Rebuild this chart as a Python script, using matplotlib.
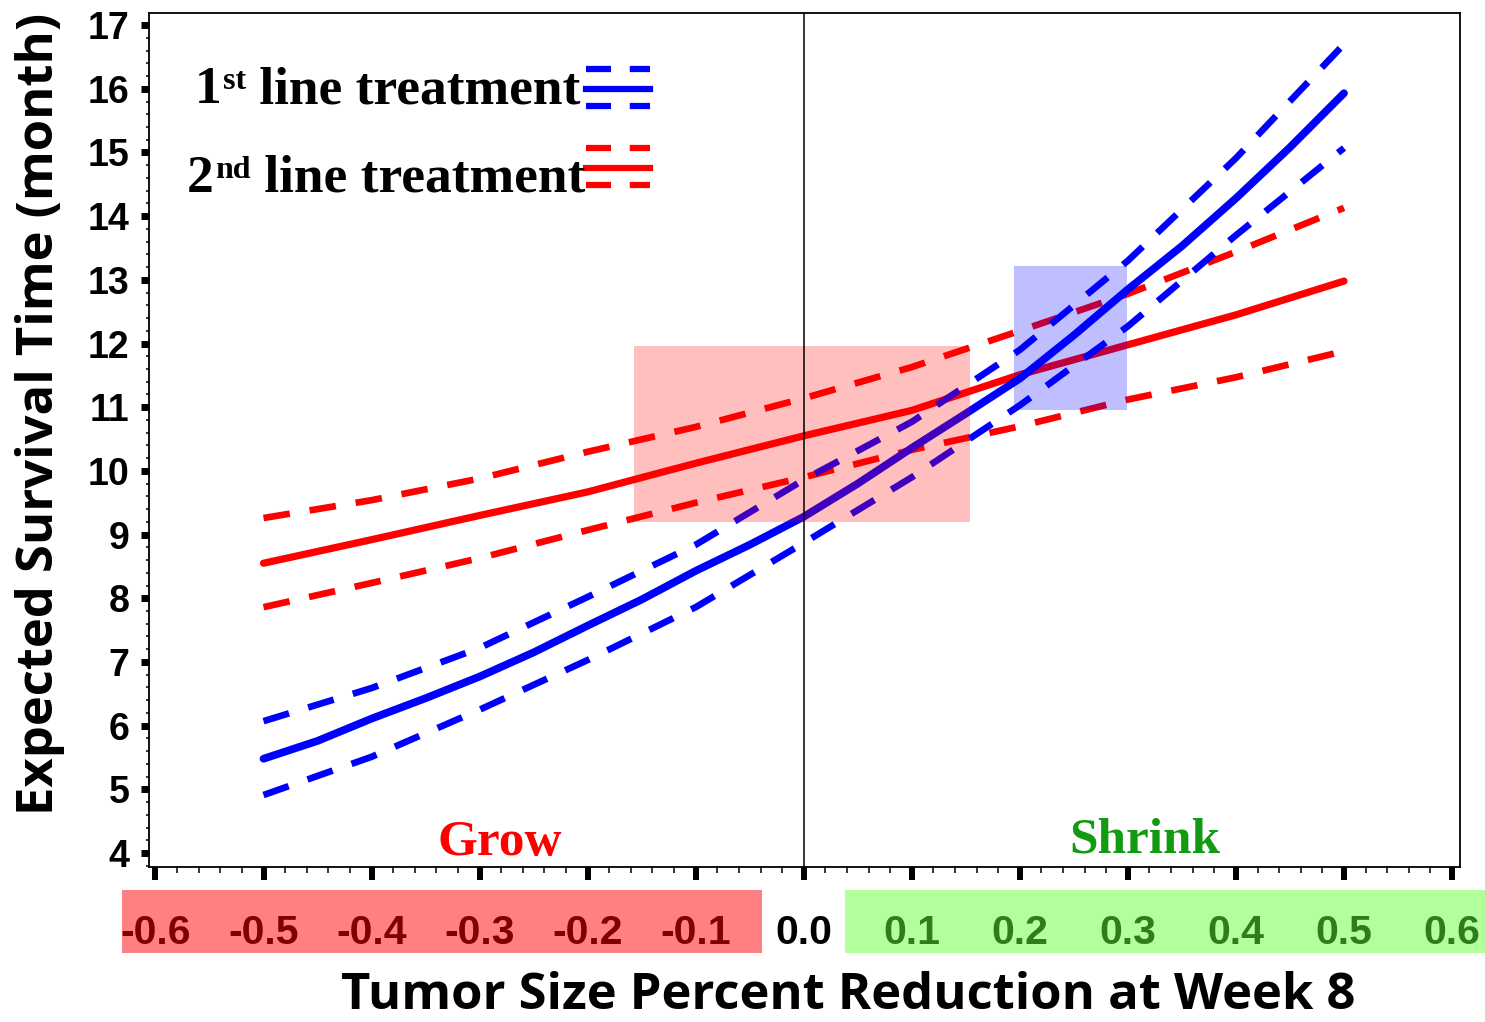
import numpy as np
import matplotlib
matplotlib.use("Agg")
import matplotlib.pyplot as plt
import matplotlib.transforms as mtransforms
from matplotlib.patches import Rectangle
from matplotlib.lines import Line2D
from matplotlib.ticker import MultipleLocator

# -----------------------------
# DATA
# -----------------------------
reduction = [-0.5, -0.4, -0.3, -0.2, -0.1, 0.0, 0.1, 0.2, 0.3, 0.4, 0.5]
reduction_fine = [-0.5, -0.45, -0.4, -0.35, -0.3, -0.25, -0.2, -0.15, -0.1, -0.05,
                  0.0, 0.05, 0.1, 0.15, 0.2, 0.25, 0.3, 0.35, 0.4, 0.45, 0.5]

# 1st line treatment: estimate and band
first_mid = [5.48, 5.76, 6.11, 6.43, 6.77, 7.15, 7.57, 7.98, 8.43, 8.84,
             9.28, 9.80, 10.36, 10.90, 11.45, 12.13, 12.85, 13.53, 14.28, 15.08, 15.93]
first_hi = [6.07, 6.59, 7.22, 8.02, 8.84, 9.86, 10.77, 11.90, 13.30, 14.91, 16.70]
first_lo = [4.91, 5.51, 6.25, 7.03, 7.86, 8.87, 9.90, 11.03, 12.27, 13.70, 15.07]

# 2nd line treatment: estimate and band
second_mid = [8.55, 8.92, 9.30, 9.67, 10.12, 10.55, 10.95, 11.51, 11.98, 12.45, 12.98]
second_hi = [9.26, 9.54, 9.88, 10.30, 10.69, 11.14, 11.63, 12.20, 12.78, 13.44, 14.13]
second_lo = [7.86, 8.24, 8.63, 9.07, 9.50, 9.90, 10.33, 10.70, 11.12, 11.47, 11.88]

# highlighted regions (x0, x1, y0, y1)
red_zone = (-0.157, 0.154, 9.20, 11.96)
blue_zone = (0.195, 0.299, 10.96, 13.22)

x_ticks = [-0.6, -0.5, -0.4, -0.3, -0.2, -0.1, 0.0, 0.1, 0.2, 0.3, 0.4, 0.5, 0.6]
x_tick_labels = ["-0.6", "-0.5", "-0.4", "-0.3", "-0.2", "-0.1", "0.0",
                 "0.1", "0.2", "0.3", "0.4", "0.5", "0.6"]
y_ticks = list(range(4, 18))

# -----------------------------
# STYLE
# -----------------------------
BLUE = "#0000ff"
RED = "#ff0000"
DASH = (0, (4.0, 3.0))
TICK_FONT = "Liberation Sans"
SERIF = "Liberation Serif"
LABEL_FONT = "Open Sans"

fig = plt.figure(figsize=(14.85, 10.22), dpi=100)
ax = fig.add_axes([149 / 1485, 1 - 867 / 1022, 1311 / 1485, 854 / 1022])

ax.set_xlim(-0.606, 0.6074)
ax.set_ylim(3.78, 17.19)

# red curves first, blue on top
ax.plot(reduction, second_hi, color=RED, lw=4.8, ls=DASH, dash_capstyle="butt")
ax.plot(reduction, second_lo, color=RED, lw=4.8, ls=DASH, dash_capstyle="butt")
ax.plot(reduction, second_mid, color=RED, lw=5.2, solid_capstyle="round",
        solid_joinstyle="round")
ax.plot(reduction, first_hi, color=BLUE, lw=4.8, ls=DASH, dash_capstyle="butt")
ax.plot(reduction, first_lo, color=BLUE, lw=4.8, ls=DASH, dash_capstyle="butt")
ax.plot(reduction_fine, first_mid, color=BLUE, lw=5.6, solid_capstyle="round",
        solid_joinstyle="round")

# translucent zones on top of the curves
for (x0, x1, y0, y1), c in [(red_zone, RED), (blue_zone, BLUE)]:
    ax.add_patch(Rectangle((x0, y0), x1 - x0, y1 - y0, facecolor=c,
                           alpha=0.25, edgecolor="none", zorder=3))

ax.axvline(0, color="black", lw=1.1, zorder=4)

# -----------------------------
# AXES / TICKS
# -----------------------------
for sp in ax.spines.values():
    sp.set_linewidth(1.3)

ax.set_xticks(x_ticks)
ax.set_xticklabels(x_tick_labels)
ax.xaxis.set_minor_locator(MultipleLocator(0.02))
ax.set_yticks(y_ticks)
ax.yaxis.set_minor_locator(MultipleLocator(0.2))

ax.tick_params(axis="x", which="major", direction="out", length=9.5, width=4.3,
               pad=24, labelsize=29.5)
ax.tick_params(axis="x", which="minor", direction="out", length=4, width=1.1)
ax.tick_params(axis="y", which="major", direction="out", length=6, width=5,
               pad=8, labelsize=27)
ax.tick_params(axis="y", which="minor", direction="out", length=2.5, width=1.1)

for lbl in ax.get_xticklabels() + ax.get_yticklabels():
    lbl.set_fontfamily(TICK_FONT)
    lbl.set_fontweight("bold")

for lbl, v in zip(ax.get_xticklabels(), x_ticks):
    if v < 0:
        lbl.set_color("#7f0000")
    elif v > 0:
        lbl.set_color("#2f7d1a")
    else:
        lbl.set_color("black")

# colored bands behind the x tick labels
band = mtransforms.blended_transform_factory(ax.transData, ax.transAxes)
ax.add_patch(Rectangle((-0.631, -0.1007), 0.592, 0.0738, transform=band,
                       facecolor="#ff8080", edgecolor="none", clip_on=False, zorder=0))
ax.add_patch(Rectangle((0.038, -0.1007), 0.62, 0.0738, transform=band,
                       facecolor="#b3ff9b", edgecolor="none", clip_on=False, zorder=0))

ax.set_xlabel("Tumor Size Percent Reduction at Week 8", fontfamily=LABEL_FONT,
              fontweight="bold", fontsize=36.5, va="baseline")
ax.xaxis.set_label_coords(0.5332, -0.1663)
ax.set_ylabel("Expected Survival Time (month)", fontfamily=LABEL_FONT,
              fontweight="bold", fontsize=36.5, va="center")
ax.yaxis.set_label_coords(-0.0831, 0.5304)

# -----------------------------
# REGION LABELS
# -----------------------------
ax.text(-0.281, 3.97, "Grow", color=RED, fontfamily=SERIF, fontweight="bold",
        fontsize=37, ha="center", va="baseline")
ax.text(0.3156, 4.0, "Shrink", color="#139a13", fontfamily=SERIF, fontweight="bold",
        fontsize=37, ha="center", va="baseline")

# -----------------------------
# LEGEND (text with superscripts + three-line keys)
# -----------------------------
def legend_entry(x, y, num, sup, color, ys):
    t1 = ax.text(x, y, num, transform=ax.transAxes, fontfamily=SERIF,
                 fontweight="bold", fontsize=38.5, va="baseline")
    t2 = ax.annotate(sup, xy=(1, 0), xycoords=t1, xytext=(1, 13),
                     textcoords="offset points", fontfamily=SERIF,
                     fontweight="bold", fontsize=23, va="bottom")
    ax.annotate(" line treatment", xy=(1, 0), xycoords=t2, xytext=(0, -13),
                textcoords="offset points", fontfamily=SERIF,
                fontweight="bold", fontsize=38.5, va="bottom")
    for yy, style in zip(ys, [DASH, "-", DASH]):
        ax.add_line(Line2D([0.3333, 0.3822], [yy, yy], transform=ax.transAxes,
                           color=color, lw=4.5, ls=style, dash_capstyle="butt",
                           clip_on=False))

legend_entry(0.0351, 0.8946, "1", "st", BLUE, [0.9344, 0.9110, 0.8910])
legend_entry(0.0290, 0.7904, "2", "nd", RED, [0.8420, 0.8185, 0.7986])

fig.savefig("out.png", dpi=100)
